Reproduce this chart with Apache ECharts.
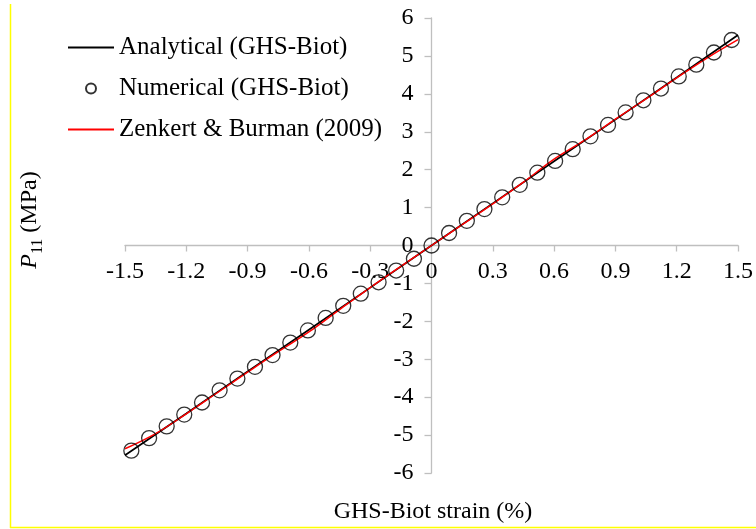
<!DOCTYPE html>
<html>
<head>
<meta charset="utf-8">
<title>P11 vs GHS-Biot strain</title>
<script src="https://cdn.jsdelivr.net/npm/echarts@6/dist/echarts.min.js"></script>
<style>
  html, body { margin: 0; padding: 0; background: #fff; }
  #chart { width: 756px; height: 529px; }
</style>
</head>
<body>
<div id="chart"></div>
<script>
// Analytical solution (GHS-Biot), strain in %
const analyticalStrain = [-1.5, -1.2, -0.9, -0.6, -0.3, 0, 0.3, 0.6, 0.9, 1.2, 1.5];
const analyticalP11 = [-5.53, -4.43, -3.32, -2.22, -1.11, 0, 1.11, 2.22, 3.32, 4.43, 5.55];

// Numerical results (GHS-Biot)
const numericalStrain = [
  -1.469, -1.382, -1.296, -1.210, -1.123, -1.037, -0.950, -0.864, -0.778,
  -0.691, -0.605, -0.518, -0.432, -0.346, -0.259, -0.173, -0.086,
  0,
  0.086, 0.173, 0.259, 0.346, 0.432, 0.518, 0.605, 0.691, 0.778,
  0.864, 0.950, 1.037, 1.123, 1.210, 1.296, 1.382, 1.469
];
const numericalP11 = [
  -5.41, -5.08, -4.77, -4.46, -4.14, -3.82, -3.51, -3.20, -2.89,
  -2.56, -2.24, -1.91, -1.59, -1.27, -0.97, -0.66, -0.35,
  0,
  0.33, 0.65, 0.96, 1.27, 1.60, 1.92, 2.23, 2.54, 2.88,
  3.18, 3.51, 3.83, 4.14, 4.46, 4.77, 5.09, 5.42
];

// Zenkert & Burman (2009)
const zenkertStrain = [-1.5, -1.35, -1.2, -1.05, -0.9, -0.75, -0.6, -0.45, -0.3, -0.15, 0,
  0.15, 0.3, 0.45, 0.6, 0.75, 0.9, 1.05, 1.2, 1.35, 1.5];
const zenkertP11 = [-5.36, -4.96, -4.44, -3.89, -3.34, -2.80, -2.28, -1.69, -1.11, -0.55, 0,
  0.55, 1.10, 1.67, 2.28, 2.78, 3.33, 3.87, 4.42, 4.95, 5.43];

const xTickLabels = ['-1.5', '-1.2', '-0.9', '-0.6', '-0.3', '0', '0.3', '0.6', '0.9', '1.2', '1.5'];
const yTickLabels = ['-6', '-5', '-4', '-3', '-2', '-1', '0', '1', '2', '3', '4', '5', '6'];

const pairs = (xs, ys) => xs.map((x, i) => [x, ys[i]]);

const FONT = 'Liberation Serif';
const AXIS_GREY = '#bfbfbf';

// plot area
const GRID = { left: 125, right: 18, top: 18, bottom: 56 };
const W = 756, H = 529;
const plotW = W - GRID.left - GRID.right;
const plotH = H - GRID.top - GRID.bottom;
const X_MIN = -1.5, X_MAX = 1.5, Y_MIN = -6, Y_MAX = 6;
// the axes cross at the origin: shift each axis from its edge onto zero
const yAxisShift = plotW * (0 - X_MIN) / (X_MAX - X_MIN);
const xAxisShift = plotH * (0 - Y_MIN) / (Y_MAX - Y_MIN);

const chart = echarts.init(document.getElementById('chart'), null, { renderer: 'canvas' });

const noMarker = { color: 'rgba(0,0,0,0)', borderWidth: 0 };

chart.setOption({
  animation: false,
  backgroundColor: '#ffffff',
  textStyle: { fontFamily: FONT, color: '#000' },
  grid: Object.assign({ containLabel: false }, GRID),
  legend: {
    orient: 'vertical',
    left: 67,
    top: 35,
    padding: 0,
    itemWidth: 46,
    itemHeight: 10,
    itemGap: 16,
    textStyle: { fontFamily: FONT, fontSize: 25, color: '#000' },
    data: [
      { name: 'Analytical (GHS-Biot)', itemStyle: noMarker },
      { name: 'Numerical (GHS-Biot)' },
      { name: 'Zenkert & Burman (2009)', itemStyle: noMarker }
    ]
  },
  xAxis: {
    type: 'value',
    position: 'bottom',
    offset: -xAxisShift,
    min: X_MIN,
    max: X_MAX,
    interval: 0.3,
    axisLine: { onZero: false, lineStyle: { color: AXIS_GREY, width: 1.3 } },
    axisTick: { show: true, length: 6, lineStyle: { color: AXIS_GREY, width: 1.3 } },
    splitLine: { show: false },
    axisLabel: {
      margin: 14,
      fontFamily: FONT,
      fontSize: 24,
      color: '#000',
      formatter: (v) => xTickLabels[Math.round((v - X_MIN) / 0.3)]
    }
  },
  yAxis: {
    type: 'value',
    position: 'left',
    offset: -yAxisShift,
    min: Y_MIN,
    max: Y_MAX,
    interval: 1,
    axisLine: { show: true, onZero: false, lineStyle: { color: AXIS_GREY, width: 1.3 } },
    axisTick: { show: true, length: 7, lineStyle: { color: AXIS_GREY, width: 1.3 } },
    splitLine: { show: false },
    axisLabel: {
      margin: 18,
      fontFamily: FONT,
      fontSize: 24,
      color: '#000',
      formatter: (v) => yTickLabels[Math.round(v - Y_MIN)]
    }
  },
  graphic: [
    // frame edges
    { type: 'line', shape: { x1: 10.5, y1: 4, x2: 10.5, y2: 528 }, style: { stroke: '#ffff00', lineWidth: 1.5 }, silent: true },
    { type: 'line', shape: { x1: 10, y1: 527.5, x2: 756, y2: 527.5 }, style: { stroke: '#ffff00', lineWidth: 1.5 }, silent: true },
    // x axis title
    {
      type: 'text', x: 433, y: 512,
      style: { text: 'GHS-Biot strain (%)', font: '24px "Liberation Serif"', fill: '#000', align: 'center', verticalAlign: 'middle' }
    },
    // y axis title with italic P and subscript 11
    {
      type: 'text',
      x: 30, y: 220,
      rotation: Math.PI / 2,
      style: {
        text: '{p|P}{s|11}{n| (MPa)}',
        align: 'center',
        verticalAlign: 'middle',
        rich: {
          p: { fontFamily: FONT, fontStyle: 'italic', fontSize: 24, fill: '#000', verticalAlign: 'bottom' },
          s: { fontFamily: FONT, fontSize: 16, fill: '#000', verticalAlign: 'bottom', padding: [0, 0, -4, 0] },
          n: { fontFamily: FONT, fontSize: 24, fill: '#000', verticalAlign: 'bottom' }
        }
      }
    }
  ],
  series: [
    {
      name: 'Analytical (GHS-Biot)',
      type: 'line',
      showSymbol: false,
      symbol: 'none',
      data: pairs(analyticalStrain, analyticalP11),
      lineStyle: { color: '#000000', width: 1.7 },
      itemStyle: { color: '#000000' },
      z: 2
    },
    {
      name: 'Zenkert & Burman (2009)',
      type: 'line',
      smooth: 0.4,
      showSymbol: false,
      symbol: 'none',
      data: pairs(zenkertStrain, zenkertP11),
      lineStyle: { color: '#ff0000', width: 1.5 },
      itemStyle: { color: '#ff0000' },
      z: 3
    },
    {
      name: 'Numerical (GHS-Biot)',
      type: 'scatter',
      symbol: 'circle',
      symbolSize: 15,
      data: pairs(numericalStrain, numericalP11),
      itemStyle: { color: 'rgba(255,255,255,0)', borderColor: '#000000', borderWidth: 1.3 },
      z: 4
    }
  ]
});
</script>
</body>
</html>
